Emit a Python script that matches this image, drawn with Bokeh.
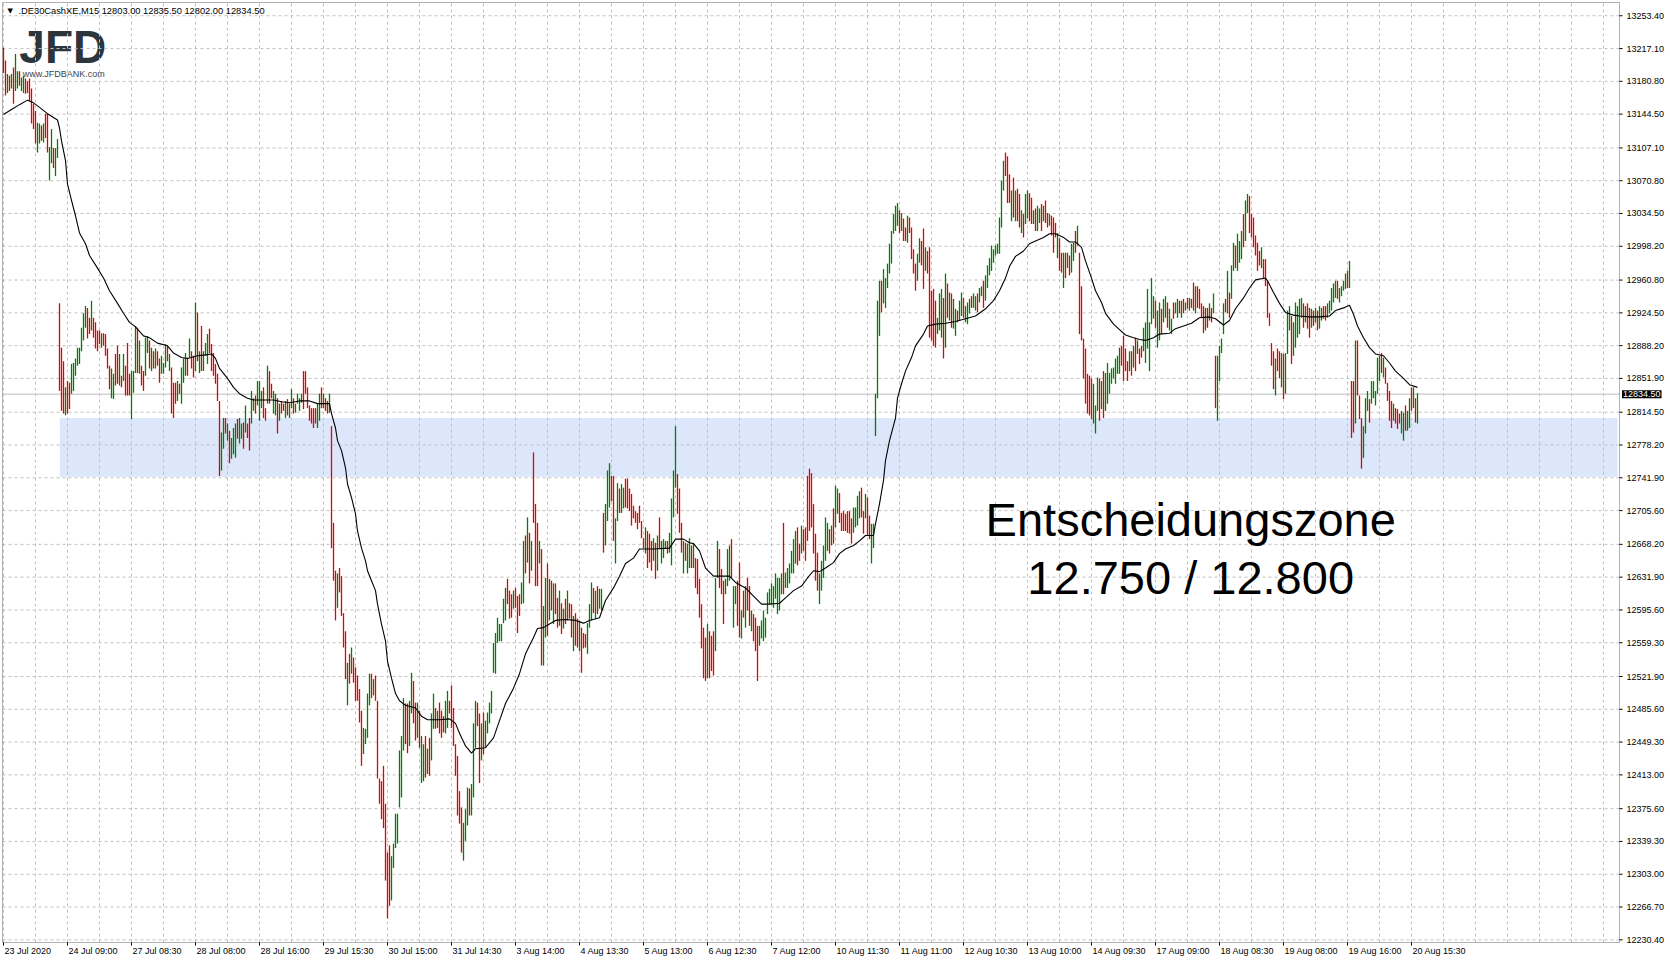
from bokeh.plotting import figure
from bokeh.models import Range1d, Label, BoxAnnotation, ColumnDataSource
from bokeh.core.properties import value
from bokeh.embed import file_html
from bokeh.resources import INLINE

# ---------------- data (DE30 cash, M15 bars) ----------------
SYMBOL = ".DE30CashXE,M15"
LAST_OHLC = [12803.00, 12835.50, 12802.00, 12834.50]

HIGH = [
    13218, 13204, 13189, 13187, 13189, 13196, 13211, 13192, 13192, 13185,
    13187, 13184, 13181, 13184, 13173, 13156, 13148, 13135, 13134, 13132,
    13134, 13145, 13145, 13108, 13128, 13107, 13107, 13117, 12935, 12886,
    12871, 12842, 12849, 12847, 12868, 12869, 12874, 12886, 12886, 12908,
    12924, 12932, 12930, 12919, 12938, 12919, 12914, 12905, 12905, 12902,
    12902, 12901, 12885, 12866, 12863, 12857, 12879, 12888, 12879, 12855,
    12879, 12866, 12891, 12857, 12860, 12860, 12910, 12908, 12894, 12866,
    12860, 12897, 12899, 12894, 12886, 12882, 12885, 12882, 12874, 12877,
    12869, 12890, 12888, 12879, 12864, 12847, 12847, 12849, 12846, 12864,
    12874, 12880, 12875, 12896, 12882, 12877, 12936, 12925, 12882, 12910,
    12882, 12891, 12901, 12907, 12890, 12880, 12868, 12857, 12827, 12792,
    12808, 12808, 12802, 12794, 12786, 12797, 12802, 12807, 12808, 12802,
    12803, 12822, 12802, 12808, 12838, 12830, 12833, 12849, 12849, 12838,
    12842, 12819, 12866, 12860, 12846, 12838, 12835, 12830, 12824, 12827,
    12824, 12827, 12829, 12824, 12840, 12830, 12824, 12835, 12830, 12835,
    12860, 12860, 12842, 12822, 12819, 12819, 12819, 12824, 12835, 12842,
    12835, 12830, 12827, 12835, 12799, 12692, 12639, 12636, 12642, 12633,
    12592, 12572, 12537, 12547, 12554, 12543, 12532, 12523, 12508, 12484,
    12465, 12464, 12503, 12525, 12525, 12519, 12523, 12495, 12409, 12406,
    12423, 12381, 12327, 12335, 12323, 12337, 12370, 12370, 12440, 12456,
    12498, 12492, 12492, 12495, 12526, 12517, 12493, 12493, 12484, 12456,
    12447, 12456, 12442, 12454, 12481, 12503, 12487, 12484, 12493, 12484,
    12478, 12495, 12506, 12495, 12512, 12487, 12447, 12434, 12395, 12377,
    12360, 12375, 12399, 12398, 12403, 12470, 12495, 12493, 12481, 12470,
    12482, 12473, 12482, 12493, 12506, 12559, 12570, 12587, 12580, 12580,
    12608, 12620, 12630, 12617, 12613, 12617, 12620, 12611, 12613, 12626,
    12672, 12678, 12698, 12681, 12672, 12770, 12713, 12692, 12672, 12663,
    12600, 12631, 12647, 12630, 12628, 12625, 12625, 12609, 12617, 12603,
    12597, 12608, 12617, 12603, 12602, 12589, 12592, 12586, 12584, 12576,
    12570, 12569, 12581, 12602, 12626, 12620, 12617, 12622, 12619, 12619,
    12703, 12713, 12750, 12758, 12744, 12744, 12697, 12736, 12730, 12735,
    12731, 12741, 12741, 12730, 12724, 12711, 12705, 12703, 12711, 12694,
    12675, 12687, 12683, 12680, 12672, 12675, 12670, 12678, 12698, 12672,
    12674, 12672, 12672, 12681, 12719, 12750, 12799, 12746, 12730, 12692,
    12672, 12670, 12669, 12675, 12667, 12669, 12653, 12652, 12630, 12602,
    12576, 12565, 12580, 12572, 12567, 12572, 12631, 12672, 12663, 12641,
    12628, 12630, 12663, 12667, 12674, 12622, 12622, 12628, 12648, 12595,
    12617, 12622, 12631, 12622, 12595, 12591, 12587, 12578, 12578, 12584,
    12595, 12587, 12615, 12619, 12625, 12622, 12636, 12631, 12631, 12636,
    12692, 12637, 12642, 12647, 12661, 12674, 12683, 12687, 12669, 12689,
    12685, 12687, 12744, 12752, 12747, 12713, 12680, 12659, 12636, 12650,
    12667, 12698, 12692, 12685, 12689, 12708, 12733, 12730, 12725, 12703,
    12705, 12702, 12705, 12705, 12697, 12709, 12709, 12722, 12727, 12731,
    12705, 12724, 12720, 12700, 12691, 12691, 12835, 12938, 12960, 12960,
    12973, 12963, 12979, 13001, 13015, 13034, 13043, 13046, 13038, 13035,
    13029, 13019, 13032, 13030, 13019, 12995, 12979, 12990, 13007, 13004,
    13018, 12997, 12993, 12997, 12949, 12951, 12938, 12919, 12946, 12951,
    12941, 12968, 12957, 12947, 12946, 12940, 12929, 12927, 12938, 12947,
    12941, 12932, 12936, 12940, 12943, 12946, 12943, 12946, 12952, 12954,
    12960, 12966, 12977, 12985, 12999, 12995, 12999, 13001, 13030, 13071,
    13093, 13102, 13098, 13078, 13060, 13074, 13060, 13062, 13056, 13038,
    13034, 13056, 13060, 13057, 13052, 13038, 13040, 13043, 13040, 13045,
    13043, 13049, 13035, 13034, 13032, 13030, 13024, 13013, 13007, 12991,
    12991, 12991, 12991, 12988, 13001, 13002, 13015, 13021, 12991, 12954,
    12896, 12885, 12857, 12855, 12852, 12846, 12822, 12853, 12852, 12849,
    12860, 12858, 12869, 12858, 12863, 12864, 12874, 12877, 12886, 12888,
    12899, 12885, 12871, 12882, 12882, 12888, 12897, 12894, 12885, 12888,
    12908, 12914, 12951, 12914, 12963, 12943, 12938, 12927, 12936, 12929,
    12940, 12943, 12936, 12929, 12918, 12936, 12936, 12940, 12938, 12938,
    12940, 12936, 12941, 12941, 12940, 12958, 12954, 12954, 12951, 12935,
    12932, 12930, 12930, 12935, 12930, 12946, 12877, 12877, 12888, 12896,
    12935, 12940, 12971, 12947, 12977, 13002, 12999, 13012, 13004, 13015,
    13034, 13049, 13056, 13054, 13034, 13030, 13010, 13002, 12993, 12997,
    12984, 12984, 12960, 12924, 12891, 12882, 12874, 12885, 12882, 12880,
    12879, 12880, 12927, 12932, 12921, 12914, 12936, 12932, 12940, 12941,
    12935, 12932, 12935, 12930, 12929, 12927, 12930, 12927, 12932, 12930,
    12932, 12932, 12935, 12938, 12952, 12957, 12960, 12960, 12952, 12954,
    12960, 12968, 12971, 12982, 12849, 12849, 12894, 12894, 12833, 12808,
    12799, 12830, 12838, 12829, 12849, 12849, 12838, 12875, 12877, 12880,
    12875, 12864, 12847, 12838, 12827, 12824, 12819, 12818, 12813, 12816,
    12814, 12822, 12816, 12830, 12842, 12842, 12830, 12835.5,
]

LOW = [
    13190, 13165, 13168, 13170, 13173, 13156, 13170, 13173, 13176, 13170,
    13168, 13167, 13168, 13159, 13134, 13128, 13112, 13102, 13112, 13115,
    13113, 13118, 13102, 13071, 13090, 13085, 13076, 13096, 12838, 12816,
    12813, 12811, 12813, 12818, 12835, 12838, 12855, 12866, 12868, 12882,
    12894, 12908, 12896, 12901, 12905, 12897, 12885, 12882, 12890, 12886,
    12888, 12877, 12863, 12840, 12830, 12829, 12844, 12846, 12844, 12842,
    12849, 12833, 12833, 12833, 12807, 12836, 12858, 12858, 12857, 12844,
    12838, 12855, 12880, 12863, 12860, 12863, 12863, 12866, 12847, 12857,
    12857, 12864, 12871, 12860, 12813, 12808, 12824, 12827, 12835, 12824,
    12847, 12855, 12855, 12875, 12863, 12853, 12860, 12871, 12858, 12860,
    12860, 12877, 12868, 12880, 12860, 12855, 12846, 12827, 12744, 12750,
    12774, 12791, 12783, 12758, 12763, 12768, 12764, 12785, 12780, 12785,
    12774, 12792, 12786, 12772, 12802, 12816, 12813, 12822, 12805, 12819,
    12808, 12805, 12824, 12824, 12830, 12813, 12811, 12791, 12805, 12813,
    12816, 12808, 12811, 12808, 12819, 12813, 12814, 12824, 12816, 12825,
    12818, 12835, 12819, 12805, 12802, 12797, 12802, 12797, 12805, 12819,
    12819, 12816, 12813, 12814, 12664, 12628, 12584, 12598, 12615, 12589,
    12554, 12519, 12490, 12514, 12525, 12515, 12495, 12495, 12471, 12423,
    12436, 12447, 12454, 12490, 12498, 12501, 12495, 12409, 12381, 12364,
    12354, 12296, 12254, 12268, 12274, 12310, 12332, 12337, 12377, 12388,
    12440, 12447, 12437, 12445, 12481, 12470, 12451, 12454, 12443, 12404,
    12406, 12410, 12414, 12412, 12429, 12464, 12464, 12465, 12459, 12454,
    12460, 12459, 12465, 12481, 12465, 12445, 12412, 12368, 12359, 12327,
    12318, 12340, 12357, 12368, 12368, 12388, 12443, 12467, 12404, 12429,
    12436, 12443, 12459, 12470, 12481, 12526, 12525, 12559, 12561, 12561,
    12581, 12584, 12602, 12586, 12587, 12597, 12598, 12570, 12589, 12602,
    12603, 12636, 12648, 12625, 12639, 12692, 12622, 12622, 12647, 12534,
    12534, 12565, 12567, 12584, 12595, 12580, 12591, 12576, 12578, 12569,
    12575, 12580, 12584, 12586, 12565, 12550, 12556, 12554, 12550, 12526,
    12553, 12554, 12547, 12576, 12584, 12592, 12586, 12591, 12597, 12595,
    12659, 12667, 12694, 12709, 12716, 12672, 12647, 12694, 12703, 12703,
    12708, 12709, 12708, 12705, 12689, 12697, 12692, 12685, 12692, 12675,
    12664, 12658, 12642, 12648, 12639, 12650, 12630, 12639, 12663, 12647,
    12653, 12664, 12658, 12659, 12645, 12698, 12731, 12702, 12681, 12659,
    12636, 12650, 12636, 12642, 12642, 12642, 12620, 12613, 12587, 12553,
    12520, 12517, 12520, 12520, 12528, 12523, 12550, 12631, 12620, 12613,
    12580, 12613, 12622, 12628, 12631, 12576, 12602, 12578, 12565, 12564,
    12587, 12576, 12595, 12578, 12572, 12561, 12550, 12517, 12556, 12564,
    12561, 12565, 12591, 12602, 12602, 12598, 12608, 12591, 12595, 12613,
    12613, 12620, 12620, 12625, 12636, 12636, 12647, 12645, 12650, 12658,
    12661, 12650, 12672, 12683, 12687, 12658, 12628, 12617, 12602, 12617,
    12631, 12650, 12661, 12658, 12667, 12669, 12687, 12702, 12692, 12683,
    12683, 12683, 12681, 12680, 12669, 12681, 12687, 12689, 12697, 12698,
    12680, 12697, 12678, 12674, 12647, 12664, 12788, 12830, 12899, 12925,
    12935, 12930, 12952, 12968, 12979, 13012, 13015, 13021, 13013, 13015,
    13004, 13004, 13002, 13013, 12984, 12968, 12949, 12960, 12980, 12977,
    12951, 12971, 12968, 12897, 12894, 12888, 12886, 12901, 12905, 12897,
    12874, 12886, 12919, 12916, 12908, 12907, 12899, 12914, 12916, 12921,
    12919, 12914, 12912, 12924, 12930, 12930, 12927, 12925, 12936, 12943,
    12930, 12938, 12952, 12966, 12971, 12980, 12988, 12990, 12990, 13019,
    13060, 13076, 13046, 13046, 13026, 13030, 13026, 13026, 13019, 13013,
    13008, 13023, 13029, 13026, 13023, 13023, 13015, 13015, 13024, 13015,
    13026, 13024, 13019, 13021, 13010, 12991, 13008, 12985, 12971, 12969,
    12952, 12963, 12974, 12966, 12969, 12982, 12991, 12999, 12901, 12894,
    12852, 12824, 12813, 12811, 12807, 12802, 12791, 12816, 12805, 12818,
    12808, 12816, 12824, 12835, 12846, 12852, 12846, 12857, 12857, 12866,
    12849, 12860, 12849, 12860, 12855, 12864, 12860, 12879, 12868, 12875,
    12882, 12869, 12885, 12860, 12912, 12918, 12908, 12886, 12894, 12901,
    12914, 12919, 12908, 12905, 12901, 12918, 12924, 12919, 12924, 12919,
    12924, 12927, 12929, 12927, 12930, 12927, 12924, 12930, 12929, 12919,
    12902, 12905, 12908, 12916, 12914, 12924, 12819, 12805, 12849, 12880,
    12901, 12925, 12924, 12919, 12940, 12971, 12974, 12971, 12980, 12984,
    12997, 13004, 13035, 13013, 13008, 12997, 12988, 12971, 12977, 12974,
    12963, 12954, 12919, 12910, 12866, 12840, 12833, 12860, 12852, 12842,
    12829, 12835, 12879, 12905, 12868, 12877, 12886, 12897, 12901, 12919,
    12908, 12914, 12907, 12897, 12908, 12910, 12914, 12905, 12907, 12916,
    12918, 12916, 12919, 12924, 12927, 12936, 12941, 12940, 12936, 12943,
    12949, 12951, 12952, 12952, 12786, 12792, 12802, 12833, 12807, 12752,
    12764, 12791, 12816, 12803, 12824, 12830, 12822, 12835, 12849, 12858,
    12853, 12846, 12827, 12805, 12797, 12805, 12802, 12796, 12802, 12791,
    12783, 12794, 12794, 12797, 12816, 12819, 12803, 12802,
]

# u = bullish (close > open), d = bearish
DIR = (
    "ddududuudu" "udddddduud" "udduuduudd" "dudduuuuuu" "uudduddddu"
    "dddduuddud" "uddduuudud" "duudududdu" "uududddudu" "uududdudud"
    "uuuddddddu" "ududuuuduu" "dudduuduuu" "ddudduudud" "duduuduuuu"
    "ddddddduud" "uddudddudd" "ddududdddd" "uuuududddd" "dddduuuuuu"
    "udduuddudu" "ududuududd" "duuddddddd" "uuuduuuddu" "duuuuuuuuu"
    "uudddudddu" "udududddud" "uudududdud" "ududduddud" "dduuududuu"
    "duuudduudu" "uddddddddd" "dudddududu" "uuduuuuddd" "uduududddd"
    "dduddduudd" "duuuduuddu" "dudduddduu" "uuuuuuuuuu" "duuuuuuddu"
    "dddddddduu" "uuududuudd" "ddddduuuud" "dudduuuuud" "uuuuuuuudu"
    "ddudddduud" "duddddduuu" "dududuuduu" "duuuduuduu" "duuuuuuuuu"
    "udddududdu" "duudduduud" "uddudddudd" "ududuududd" "ddddduuudu"
    "duuuuuuuud" "dddudududd" "uuuuuuduud" "uuduuduudu" "dududduddd"
    "dudududuuu" "ududuuduuu" "duuddddddu" "dddddduddu" "duuuduuuuu"
    "duddududuu" "dduuuuuduu" "uududduddd" "uuuduuuuud" "uddddudddu"
    "uduududu"
)

# moving average at bar numbers
MA_BAR = [0, 5, 8, 12, 15, 18, 22, 27, 28, 29, 31, 32, 34, 36, 38, 41, 43, 47, 50, 53,
          57, 60, 63, 66, 70, 73, 77, 82, 85, 89, 92, 97, 101, 104, 106, 108, 112, 115, 118, 122,
          125, 130, 135, 139, 143, 148, 153, 157, 163, 164, 166, 167, 169, 171, 172, 174, 176, 177, 179, 181,
          182, 184, 186, 187, 189, 191, 192, 194, 196, 198, 201, 206, 209, 212, 218, 223, 226, 228, 231, 234,
          236, 241, 245, 248, 251, 255, 258, 261, 265, 267, 270, 273, 276, 281, 286, 290, 293, 298, 301, 305,
          308, 311, 315, 318, 325, 333, 336, 340, 343, 345, 348, 351, 355, 363, 366, 371, 375, 379, 383, 388,
          391, 395, 399, 402, 405, 408, 411, 415, 418, 421, 425, 428, 431, 435, 436, 438, 440, 441, 443, 446,
          447, 449, 451, 454, 456, 460, 462, 466, 471, 476, 481, 486, 491, 495, 498, 501, 503, 506, 508, 510,
          513, 516, 520, 523, 526, 530, 533, 536, 539, 541, 544, 546, 549, 551, 555, 558, 561, 565, 568, 571,
          575, 578, 583, 586, 590, 594, 598, 603, 606, 610, 613, 616, 620, 623, 626, 631, 632, 635, 638, 641,
          645, 648, 653, 658, 663, 666, 670, 673, 675, 677, 680, 683, 686, 690, 693, 696, 700, 703, 707]
MA_VAL = [13144, 13151, 13155, 13160, 13157, 13152, 13145, 13138, 13129, 13115, 13093, 13067, 13049, 13032, 13013, 13001, 12988, 12974, 12963, 12949,
          12935, 12924, 12914, 12909, 12899, 12897, 12891, 12888, 12880, 12875, 12874, 12877, 12878, 12879, 12874, 12863, 12852, 12842, 12835, 12830,
          12828, 12828, 12828, 12826, 12825, 12827, 12827, 12824, 12824, 12813, 12797, 12783, 12772, 12753, 12735, 12720, 12702, 12683, 12664, 12650,
          12639, 12628, 12617, 12602, 12580, 12561, 12539, 12520, 12503, 12495, 12490, 12487, 12478, 12474, 12474, 12475, 12470, 12459, 12445, 12437,
          12442, 12443, 12454, 12473, 12492, 12509, 12525, 12547, 12565, 12575, 12576, 12580, 12584, 12585, 12584, 12581, 12584, 12587, 12606, 12620,
          12633, 12647, 12653, 12663, 12663, 12664, 12674, 12674, 12670, 12669, 12661, 12642, 12633, 12633, 12626, 12620, 12611, 12602, 12602, 12603,
          12609, 12617, 12622, 12631, 12639, 12638, 12642, 12648, 12658, 12663, 12667, 12672, 12678, 12678, 12691, 12713, 12739, 12761, 12783, 12808,
          12830, 12846, 12860, 12875, 12888, 12901, 12910, 12912, 12913, 12915, 12918, 12921, 12929, 12938, 12949, 12963, 12976, 12987, 12990, 12993,
          13001, 13004, 13008, 13012, 13012, 13008, 13003, 13003, 12997, 12982, 12963, 12949, 12936, 12924, 12912, 12906, 12900, 12897, 12895, 12894,
          12897, 12901, 12902, 12907, 12910, 12913, 12919, 12920, 12918, 12911, 12916, 12929, 12941, 12952, 12961, 12963, 12960, 12947, 12935, 12925,
          12922, 12921, 12920, 12920, 12921, 12927, 12930, 12933, 12923, 12910, 12897, 12886, 12879, 12877, 12869, 12860, 12852, 12845, 12842]

Y_TICKS = [13253.40, 13217.10, 13180.80, 13144.50, 13107.10, 13070.80, 13034.50, 12998.20,
           12960.80, 12924.50, 12888.20, 12851.90, 12814.50, 12778.20, 12741.90, 12705.60,
           12668.20, 12631.90, 12595.60, 12559.30, 12521.90, 12485.60, 12449.30, 12413.00,
           12375.60, 12339.30, 12303.00, 12266.70, 12230.40]

X_LABELS = ["23 Jul 2020", "24 Jul 09:00", "27 Jul 08:30", "28 Jul 08:00", "28 Jul 16:00",
            "29 Jul 15:30", "30 Jul 15:00", "31 Jul 14:30", "3 Aug 14:00", "4 Aug 13:30",
            "5 Aug 13:00", "6 Aug 12:30", "7 Aug 12:00", "10 Aug 11:30", "11 Aug 11:00",
            "12 Aug 10:30", "13 Aug 10:00", "14 Aug 09:30", "17 Aug 09:00", "18 Aug 08:30",
            "19 Aug 08:00", "19 Aug 16:00", "20 Aug 15:30"]
BARS_PER_LABEL = 32
BARS_PER_GRID = 16

ZONE_FROM_BAR = 28
ZONE_LOW = 12743
ZONE_HIGH = 12808
ZONE_TEXT = ["Entscheidungszone", "12.750 / 12.800"]

assert len(HIGH) == len(LOW) == len(DIR)

# ---------------- chart window (bar / price units) ----------------
FONT = "Liberation Sans"
UP, DN = "#008000", "#e80000"
GRID = "#c0c0c0"
X_VIEW = (-1.5, 832.5)          # whole canvas, incl. price scale
Y_VIEW = (12207.5, 13270.3)     # whole canvas, incl. time scale
PLOT_L, PLOT_R = -0.5, 808.0    # chart area border
PLOT_B, PLOT_T = 12227.4, 13268.1
TICK_X = 1.5                    # tick length (bars)
TICK_Y = 3.3                    # tick length (price)

p = figure(width=1668, height=960, x_range=Range1d(*X_VIEW), y_range=Range1d(*Y_VIEW),
           output_backend="svg", toolbar_location=None,
           x_axis_location=None, y_axis_location=None, min_border=0)
p.background_fill_color = "white"
p.border_fill_color = "white"
p.outline_line_color = None
p.xgrid.visible = False
p.ygrid.visible = False

# decision zone (under everything)
p.add_layout(BoxAnnotation(left=ZONE_FROM_BAR + 0.15, right=PLOT_R - 1.0,
                           bottom=ZONE_LOW, top=ZONE_HIGH,
                           fill_color="#dce7fb", fill_alpha=1.0, line_alpha=0, level="image"))

# logo
p.add_layout(Label(x=7.9, y=13218.3, text="JFD", text_font=FONT, text_font_style="bold",
                   text_font_size="46px", text_color="#2c353b", text_baseline="alphabetic",
                   level="image"))
p.add_layout(Label(x=9.6, y=13188.4, text="www.JFDBANK.com", text_font=FONT,
                   text_font_size="9px", text_color="#3b444a", text_baseline="alphabetic",
                   level="image"))

# dashed grid
v_grid = list(range(0, int(PLOT_R), BARS_PER_GRID))
p.segment(x0=v_grid, y0=[PLOT_B] * len(v_grid), x1=v_grid, y1=[PLOT_T] * len(v_grid),
          line_color=GRID, line_width=1, line_dash="3 3")
p.segment(x0=[PLOT_L] * len(Y_TICKS), y0=Y_TICKS, x1=[PLOT_R] * len(Y_TICKS), y1=Y_TICKS,
          line_color=GRID, line_width=1, line_dash="3 3")

# last price line
p.segment(x0=[PLOT_L], y0=[LAST_OHLC[3]], x1=[PLOT_R], y1=[LAST_OHLC[3]],
          line_color="#bdbdbd", line_width=1)

# candles (drawn as high-low lines, as in the MT4 zoom level)
src = ColumnDataSource(dict(x=list(range(len(HIGH))), lo=LOW, hi=HIGH,
                            c=[UP if d == "u" else DN for d in DIR]))
p.segment(x0="x", y0="lo", x1="x", y1="hi", line_color="c", line_width=1.3, source=src)

# moving average
p.line(MA_BAR, MA_VAL, line_color="black", line_width=1.1)

# chart border
p.add_layout(BoxAnnotation(left=PLOT_L, right=PLOT_R, bottom=PLOT_B, top=PLOT_T,
                           fill_alpha=0, line_color="black", line_width=1))

# price scale: ticks + labels
p.segment(x0=[PLOT_R] * len(Y_TICKS), y0=Y_TICKS, x1=[PLOT_R + TICK_X] * len(Y_TICKS),
          y1=Y_TICKS, line_color="black", line_width=1)
p.text(x=[PLOT_R + 3.5] * len(Y_TICKS), y=Y_TICKS, text=["%.2f" % v for v in Y_TICKS],
       text_font=value(FONT), text_font_size=value("9px"), text_color="black",
       text_align="left", text_baseline="middle")

# time scale: ticks + labels (left aligned at the tick)
x_ticks = [k * BARS_PER_LABEL for k in range(len(X_LABELS))]
p.segment(x0=x_ticks, y0=[PLOT_B] * len(x_ticks), x1=x_ticks,
          y1=[PLOT_B - TICK_Y] * len(x_ticks), line_color="black", line_width=1)
p.text(x=[t + 0.5 for t in x_ticks], y=[PLOT_B - 4.4] * len(x_ticks), text=X_LABELS,
       text_font=value(FONT), text_font_size=value("9px"), text_color="black",
       text_align="left", text_baseline="top")

# header
p.add_layout(Label(x=2.0, y=13259.2, text="\u25BC", text_font="DejaVu Sans",
                   text_font_size="7px", text_color="black", text_baseline="middle"))
p.add_layout(Label(x=7.5, y=13259.2,
                   text=SYMBOL + "  " + " ".join("%.2f" % v for v in LAST_OHLC),
                   text_font=FONT, text_font_size="9.3px", text_color="black",
                   text_baseline="middle"))

# annotation text
p.add_layout(Label(x=593.6, y=12695.7, text=ZONE_TEXT[0], text_font=FONT,
                   text_font_size="47px", text_color="black", text_align="center",
                   text_baseline="alphabetic"))
p.add_layout(Label(x=593.6, y=12631.5, text=ZONE_TEXT[1], text_font=FONT,
                   text_font_size="47px", text_color="black", text_align="center",
                   text_baseline="alphabetic"))

# last price box on the price scale
p.add_layout(Label(x=PLOT_R, y=LAST_OHLC[3], x_offset=2.5, text="%.2f" % LAST_OHLC[3],
                   text_font=FONT, text_font_size="9px", text_color="white",
                   background_fill_color="black", text_align="left",
                   text_baseline="middle", padding=1))

open("out.html", "w", encoding="utf-8").write(file_html(p, INLINE, title="DE30 M15"))
